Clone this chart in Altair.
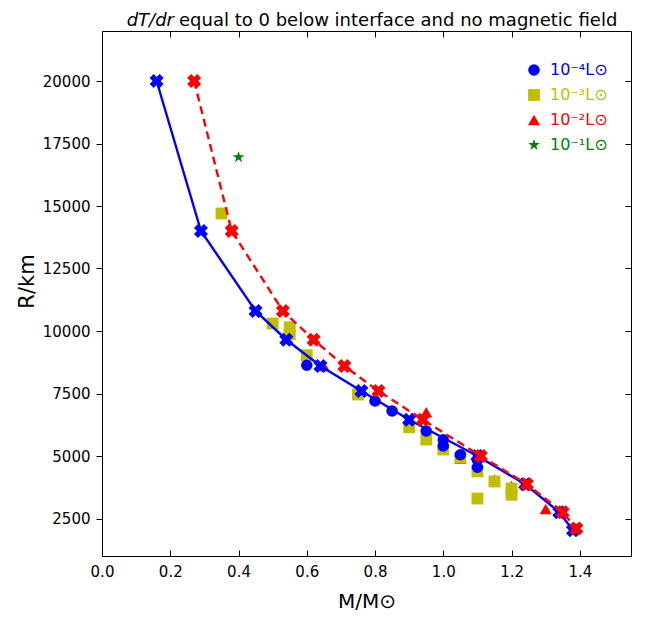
import altair as alt
import pandas as pd

# ---- data ----
series_labels = ["10⁻⁴L⊙", "10⁻³L⊙", "10⁻²L⊙", "10⁻¹L⊙"]
series_colors = ["#0000ff", "#bfbf00", "#ff0000", "#008000"]

# scatter: 10^-4 L (blue circles)
c_M = [0.60, 0.80, 0.85, 0.95, 1.00, 1.00, 1.05, 1.10, 1.10]
c_R = [8630, 7200, 6800, 6000, 5650, 5400, 5050, 4850, 4550]
# 10^-3 L (olive squares)
s_M = [0.35, 0.50, 0.55, 0.55, 0.60, 0.75, 0.90, 0.95, 1.00, 1.05, 1.10, 1.10, 1.15, 1.20, 1.20]
s_R = [14700, 10300, 10150, 9870, 9030, 7460, 6150, 5660, 5260, 4940, 4380, 3300, 3980, 3700, 3450]
# 10^-2 L (red triangles)
t_M = [0.65, 0.95, 1.05, 1.15, 1.20, 1.30]
t_R = [8600, 6750, 4900, 4050, 3800, 2880]
# 10^-1 L (green star)
st_M = [0.40]
st_R = [16950]

# model curves with X markers
blue_M = [0.16, 0.29, 0.45, 0.54, 0.64, 0.76, 0.90, 1.10, 1.24, 1.34, 1.38]
blue_R = [20000, 14000, 10800, 9650, 8600, 7600, 6450, 5000, 3870, 2750, 2030]
red_M = [0.27, 0.38, 0.53, 0.62, 0.71, 0.81, 0.94, 1.11, 1.245, 1.35, 1.39]
red_R = [20000, 14000, 10800, 9650, 8600, 7600, 6450, 5000, 3870, 2750, 2100]

x_ticks = [0.0, 0.2, 0.4, 0.6, 0.8, 1.0, 1.2, 1.4]
y_ticks = [2500, 5000, 7500, 10000, 12500, 15000, 17500, 20000]

title_italic = "dT/dr"
title_rest = "equal to 0 below interface and no magnetic field"

W, H = 529, 525
FONT = "DejaVu Sans"

star_path = ("M0,-1L0.2245,-0.309L0.951,-0.309L0.363,0.118L0.588,0.809L0,0.382"
             "L-0.588,0.809L-0.363,0.118L-0.951,-0.309L-0.2245,-0.309Z")
shapes = ["circle", "square", "triangle-up", star_path]
sizes = [135, 150, 150, 85]

# draw order: triangles, squares, circles, star
rows = []
for m, r in zip(t_M, t_R):
    rows.append({"M": m, "R": r, "series": series_labels[2]})
for m, r in zip(s_M, s_R):
    rows.append({"M": m, "R": r, "series": series_labels[1]})
for m, r in zip(c_M, c_R):
    rows.append({"M": m, "R": r, "series": series_labels[0]})
for m, r in zip(st_M, st_R):
    rows.append({"M": m, "R": r, "series": series_labels[3]})
scatter_df = pd.DataFrame(rows)
blue_df = pd.DataFrame({"M": blue_M, "R": blue_R})
red_df = pd.DataFrame({"M": red_M, "R": red_R})

xs = alt.Scale(domain=[0, 1.55], nice=False, zero=False)
ys = alt.Scale(domain=[1000, 22000], nice=False, zero=False)

label_color_expr = (
    "datum.value === '%s' ? '%s' : datum.value === '%s' ? '%s' : "
    "datum.value === '%s' ? '%s' : '%s'"
    % (series_labels[0], series_colors[0], series_labels[1], series_colors[1],
       series_labels[2], series_colors[2], series_colors[3])
)

legend = alt.Legend(
    title=None, orient="none", legendX=424, legendY=31,
    symbolSize=110, labelFontSize=16, labelFont=FONT,
    labelColor={"expr": label_color_expr},
    rowPadding=9, labelOffset=8, padding=0, symbolStrokeWidth=0,
)

x_axis_main = alt.Axis(
    values=x_ticks, format=".1f", ticks=False, domain=False, grid=False,
    labelFontSize=15, labelFont=FONT, labelColor="black", labelPadding=8,
    labelFlush=False, title="M/M⊙", titleFont=FONT, titleFontSize=20,
    titleFontWeight="normal", titleColor="black", titlePadding=12,
)
y_axis_main = alt.Axis(
    values=y_ticks, format="d", ticks=True, tickSize=6, tickColor="black",
    domain=False, grid=False, labelFontSize=15, labelFont=FONT,
    labelColor="black", labelPadding=6, labelFlush=False,
    title="R/km", titleFont=FONT, titleFontSize=21, titleFontWeight="normal",
    titleColor="black", titlePadding=5, titleY=250,
)


def tick_axis(values, orient, offset):
    return alt.Axis(values=values, labels=False, domain=False, ticks=True,
                    tickSize=6, tickColor="black", grid=False, title=None,
                    orient=orient, offset=offset)


scatter = alt.Chart(scatter_df).mark_point(filled=True, opacity=1, strokeWidth=0).encode(
    x=alt.X("M:Q", scale=xs, axis=x_axis_main),
    y=alt.Y("R:Q", scale=ys, axis=y_axis_main),
    color=alt.Color("series:N", scale=alt.Scale(domain=series_labels, range=series_colors), legend=legend),
    shape=alt.Shape("series:N", scale=alt.Scale(domain=series_labels, range=shapes), legend=legend),
    size=alt.Size("series:N", scale=alt.Scale(domain=series_labels, range=sizes), legend=None),
)

ticks_a = alt.Chart(scatter_df).mark_point(opacity=0).encode(
    x=alt.X("M:Q", scale=xs, axis=tick_axis(x_ticks, "top", -H)),
    y=alt.Y("R:Q", scale=ys, axis=tick_axis(y_ticks, "left", -W)),
)
ticks_b = alt.Chart(scatter_df).mark_point(opacity=0).encode(
    x=alt.X("M:Q", scale=xs, axis=tick_axis(x_ticks, "bottom", -H)),
    y=alt.Y("R:Q", scale=ys, axis=None),
)

blue_line = alt.Chart(blue_df).mark_line(color="#0000ff", strokeWidth=2.4).encode(
    x=alt.X("M:Q", scale=xs, axis=None), y=alt.Y("R:Q", scale=ys, axis=None))
blue_pts = alt.Chart(blue_df).mark_point(shape="cross", angle=45, filled=True, size=200,
                                         color="#0000ff", opacity=1, strokeWidth=0).encode(
    x=alt.X("M:Q", scale=xs, axis=None), y=alt.Y("R:Q", scale=ys, axis=None))
red_line = alt.Chart(red_df).mark_line(color="#ff0000", strokeWidth=2.4, strokeDash=[8, 5]).encode(
    x=alt.X("M:Q", scale=xs, axis=None), y=alt.Y("R:Q", scale=ys, axis=None))
red_pts = alt.Chart(red_df).mark_point(shape="cross", angle=45, filled=True, size=200,
                                       color="#ff0000", opacity=1, strokeWidth=0).encode(
    x=alt.X("M:Q", scale=xs, axis=None), y=alt.Y("R:Q", scale=ys, axis=None))

t1 = alt.Chart(pd.DataFrame({"t": [title_italic]})).mark_text(
    font=FONT, fontSize=18, fontStyle="italic", align="right", baseline="alphabetic", color="black"
).encode(x=alt.value(72), y=alt.value(-5), text="t:N")
t2 = alt.Chart(pd.DataFrame({"t": [title_rest]})).mark_text(
    font=FONT, fontSize=18, align="left", baseline="alphabetic", color="black"
).encode(x=alt.value(77), y=alt.value(-5), text="t:N")

chart = alt.layer(
    scatter, ticks_a, ticks_b, blue_line, blue_pts, red_line, red_pts, t1, t2
).resolve_axis(x="independent", y="independent").properties(
    width=W, height=H,
    autosize=alt.AutoSizeParams(type="none"),
    padding={"left": 94, "top": 23, "right": 13, "bottom": 63},
).configure_view(stroke="black", strokeWidth=1).configure_axis(grid=False)

chart.save("out.html", embed_options={"renderer": "svg", "actions": False})
